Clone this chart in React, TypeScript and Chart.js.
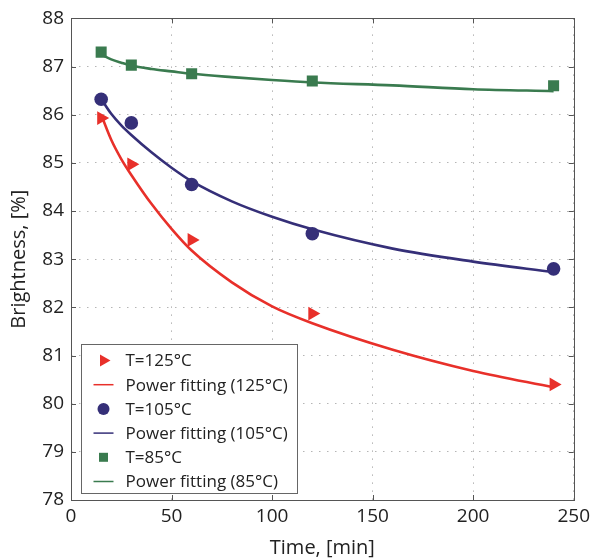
import React, { useEffect, useRef } from 'react';
import { Chart, registerables } from 'chart.js';

Chart.register(...registerables);

// ---- data ----
const times = [15, 30, 60, 120, 240];
const bright125 = [85.93, 84.97, 83.4, 81.87, 80.4];
const bright105 = [86.32, 85.83, 84.55, 83.53, 82.8];
const bright85 = [87.3, 87.03, 86.85, 86.7, 86.6];

const fitTimes = [15, 20, 25, 30, 40, 50, 60, 80, 100, 120, 160, 200, 240];
const fit125 = [86.0, 85.48, 85.08, 84.75, 84.15, 83.63, 83.18, 82.52, 82.02, 81.67, 81.12, 80.68, 80.34];
const fit105 = [86.33, 86.02, 85.78, 85.58, 85.22, 84.9, 84.62, 84.2, 83.88, 83.62, 83.22, 82.95, 82.73];
const fit85 = [87.25, 87.15, 87.08, 87.02, 86.95, 86.9, 86.85, 86.78, 86.72, 86.67, 86.61, 86.53, 86.49];

const labels = [
  'T=125\u00B0C',
  'Power fitting (125\u00B0C)',
  'T=105\u00B0C',
  'Power fitting (105\u00B0C)',
  'T=85\u00B0C',
  'Power fitting (85\u00B0C)',
];

const xTitle = 'Time, [min]';
const yTitle = 'Brightness, [%]';

const RED = '#e8302a';
const BLUE = '#352f78';
const GREEN = '#3a7b4f';
const FONT = '"Open Sans", "Noto Sans", sans-serif';

const pts = (xs: number[], ys: number[]) => xs.map((x, i) => ({ x, y: ys[i] }));

function drawMarker(ctx: CanvasRenderingContext2D, style: string, x: number, y: number, r: number, color: string) {
  ctx.save();
  ctx.fillStyle = color;
  ctx.beginPath();
  if (style === 'triangle') {
    ctx.moveTo(x + r, y);
    ctx.lineTo(x - r / 2, y - (r * Math.sqrt(3)) / 2);
    ctx.lineTo(x - r / 2, y + (r * Math.sqrt(3)) / 2);
    ctx.closePath();
  } else if (style === 'circle') {
    ctx.arc(x, y, r, 0, Math.PI * 2);
  } else {
    ctx.rect(x - r, y - r, 2 * r, 2 * r);
  }
  ctx.fill();
  ctx.restore();
}

const framePlugin = {
  id: 'frameLegend',
  afterDraw(chart: any) {
    const { ctx, chartArea: a } = chart;
    const xs = chart.scales.x;
    const ys = chart.scales.y;
    ctx.save();
    ctx.strokeStyle = '#555';
    ctx.lineWidth = 1;
    ctx.strokeRect(Math.round(a.left) + 0.5, Math.round(a.top) + 0.5, Math.round(a.right - a.left), Math.round(a.bottom - a.top));
    ctx.beginPath();
    const tl = 5;
    xs.ticks.forEach((t: any) => {
      const px = Math.round(xs.getPixelForValue(t.value)) + 0.5;
      ctx.moveTo(px, a.bottom);
      ctx.lineTo(px, a.bottom - tl);
      ctx.moveTo(px, a.top);
      ctx.lineTo(px, a.top + tl);
    });
    ys.ticks.forEach((t: any) => {
      const py = Math.round(ys.getPixelForValue(t.value)) + 0.5;
      ctx.moveTo(a.left, py);
      ctx.lineTo(a.left + tl, py);
      ctx.moveTo(a.right, py);
      ctx.lineTo(a.right - tl, py);
    });
    ctx.stroke();

    // legend
    const bx = Math.round(a.left + 10) + 0.5;
    const bw = 216;
    const rowH = 24.2;
    const bh = 149;
    const by = Math.round(a.bottom - 7 - bh) + 0.5;
    ctx.fillStyle = '#ffffff';
    ctx.fillRect(bx, by, bw, bh);
    ctx.strokeStyle = '#666';
    ctx.strokeRect(bx, by, bw, bh);
    ctx.font = `17px ${FONT}`;
    ctx.textBaseline = 'middle';
    ctx.textAlign = 'left';
    chart.data.datasets.forEach((ds: any, i: number) => {
      const cy = by + 16 + i * rowH;
      const mx = bx + 22;
      if (ds.showLine) {
        ctx.strokeStyle = ds.borderColor;
        ctx.lineWidth = 1.5;
        ctx.beginPath();
        ctx.moveTo(mx - 10, cy);
        ctx.lineTo(mx + 10, cy);
        ctx.stroke();
      } else {
        const st = ds.legendMarker;
        const r = st === 'triangle' ? 7 : st === 'circle' ? 6 : 4.5;
        drawMarker(ctx, st, mx, cy, r, ds.backgroundColor);
      }
      ctx.fillStyle = '#222';
      ctx.fillText(ds.label, bx + 44, cy + 1);
    });
    ctx.restore();
  },
};

export default function App() {
  const ref = useRef<HTMLCanvasElement>(null);
  useEffect(() => {
    if (!ref.current) return;
    const fitDs = (label: string, ys: number[], color: string) => ({
      label,
      data: pts(fitTimes, ys),
      showLine: true,
      borderColor: color,
      backgroundColor: color,
      borderWidth: 2.6,
      pointRadius: 0,
      cubicInterpolationMode: 'monotone' as const,
    });
    const markDs = (label: string, ys: number[], color: string, style: string, r: number, rot: number, marker: string) => ({
      label,
      data: pts(times, ys),
      showLine: false,
      backgroundColor: color,
      borderColor: color,
      borderWidth: 0,
      pointStyle: style,
      pointRotation: rot,
      pointRadius: r,
      legendMarker: marker,
    });
    const chart = new Chart(ref.current, {
      type: 'scatter',
      data: {
        datasets: [
          markDs(labels[0], bright125, RED, 'triangle', 8, 90, 'triangle'),
          fitDs(labels[1], fit125, RED),
          markDs(labels[2], bright105, BLUE, 'circle', 6.8, 0, 'circle'),
          fitDs(labels[3], fit105, BLUE),
          markDs(labels[4], bright85, GREEN, 'rect', 7.8, 0, 'rect'),
          fitDs(labels[5], fit85, GREEN),
        ] as any,
      },
      options: {
        animation: false,
        responsive: false,
        devicePixelRatio: 1,
        layout: { padding: { left: 0, top: 15, right: 17, bottom: 0 } },
        plugins: { legend: { display: false }, tooltip: { enabled: false } },
        scales: {
          x: {
            type: 'linear',
            min: 0,
            max: 250,
            ticks: { stepSize: 50, color: '#222', font: { family: FONT, size: 19 }, padding: 5 },
            grid: { color: '#b5b5b5', lineWidth: 1, drawTicks: false },
            border: { display: false, dash: [1.5, 6.5] },
            title: { display: true, text: xTitle, color: '#222', font: { family: FONT, size: 20 }, padding: { top: 0, bottom: 0 } },
            afterFit: (s: any) => { s.height = 60; },
          },
          y: {
            type: 'linear',
            min: 78,
            max: 88,
            ticks: { stepSize: 1, color: '#222', font: { family: FONT, size: 19 }, padding: 7 },
            grid: { color: '#b5b5b5', lineWidth: 1, drawTicks: false },
            border: { display: false, dash: [1.5, 6.5] },
            title: { display: true, text: yTitle, color: '#222', font: { family: FONT, size: 20 }, padding: { top: 7, bottom: 0 } },
            afterFit: (s: any) => { s.width = 71; },
          },
        },
      },
      plugins: [framePlugin],
    });
    return () => chart.destroy();
  }, []);
  return (
    <div style={{ position: 'absolute', left: 0, top: 0, width: 595, height: 560, background: '#fff' }}>
      <canvas ref={ref} width={595} height={560} style={{ width: 595, height: 560, display: 'block' }} />
    </div>
  );
}
